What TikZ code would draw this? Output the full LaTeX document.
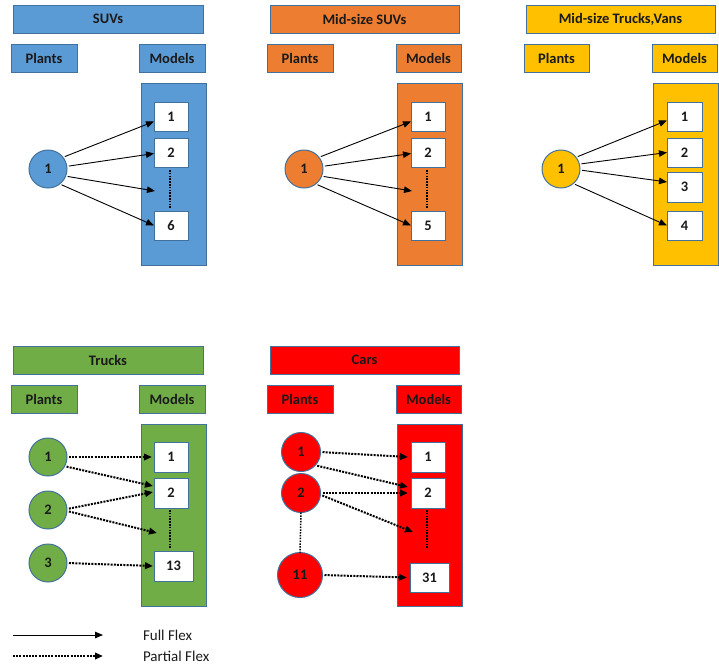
\documentclass[tikz,border=0pt]{standalone}
\usepackage{fontspec}
\setmainfont{Carlito}
\usetikzlibrary{arrows.meta}
\definecolor{cblue}{HTML}{5B9BD5}
\definecolor{corange}{HTML}{ED7D31}
\definecolor{cgold}{HTML}{FFC000}
\definecolor{cgreen}{HTML}{70AD47}
\definecolor{cred}{HTML}{FF0000}
\definecolor{cedge}{HTML}{41719C}
\definecolor{ctext}{HTML}{1A1A1A}
\begin{document}
\begin{tikzpicture}[x=1pt,y=-1pt,
  every node/.style={font=\fontsize{14.5}{17}\selectfont\bfseries, text=ctext, inner sep=0pt, outer sep=0pt},
  bar/.style={draw=cedge, line width=1pt, minimum width=190pt, minimum height=28pt},
  head/.style={draw=cedge, line width=1pt, minimum width=66pt, minimum height=28pt},
  colbox/.style={draw=cedge, line width=1pt, minimum width=65pt, minimum height=182pt},
  mbox/.style={draw=cedge, line width=1pt, fill=white, minimum width=34pt, minimum height=29pt},
  wbox/.style={mbox, minimum width=39pt},
  plant/.style={circle, draw=cedge, line width=1pt, minimum size=38pt},
  full/.style={draw=black, line width=0.9pt, -{Triangle[length=8pt,width=6.5pt]}, shorten <=2pt},
  partial/.style={draw=black, line width=2pt, dash pattern=on 2pt off 1.2pt, -{Triangle[length=8pt,width=6.5pt]}, shorten <=2pt},
  vdots/.style={draw=black, line width=1.5pt, dash pattern=on 1.5pt off 1.3pt},
  legend/.style={font=\fontsize{15}{18}\selectfont, anchor=west}
]
\useasboundingbox (0,0) rectangle (719,670);

% ===== SUVs =====
\node[bar, fill=cblue] (aT) at (108,19) {SUVs};
\node[head, fill=cblue] (aP) at (44,58) {Plants};
\node[head, fill=cblue] (aM) at (172,58) {Models};
\node[colbox, fill=cblue] (aB) at (173.5,174) {};
\node[mbox] (a1) at (171,116.5) {1};
\node[mbox] (a2) at (171,152.5) {2};
\node[mbox] (a6) at (171,225.5) {6};
\coordinate (aDt) at (170,170);
\coordinate (aDb) at (170,208);
\coordinate (aF) at (155,191);
\draw[vdots] (aDt) -- (aDb);
\node[plant, fill=cblue] (ap1) at (48,169) {1};
\draw[full] (ap1.38) -- ([yshift=-5pt]a1.west);
\draw[full] (ap1.8) -- ([yshift=-1pt]a2.west);
\draw[full] (ap1.-22) -- (aF);
\draw[full] (ap1.-52) -- (a6.west);

% ===== Mid-size SUVs =====
\node[bar, fill=corange, minimum width=189pt] (bT) at (364.5,19) {Mid-size SUVs};
\node[head, fill=corange] (bP) at (300,58) {Plants};
\node[head, fill=corange, minimum width=65pt] (bM) at (428.5,58) {Models};
\node[colbox, fill=corange] (bB) at (429.5,174) {};
\node[mbox] (b1) at (428,116.5) {1};
\node[mbox] (b2) at (428,152.5) {2};
\node[mbox] (b5) at (428,225.5) {5};
\coordinate (bDt) at (427,170);
\coordinate (bDb) at (427,208);
\coordinate (bF) at (412,191);
\draw[vdots] (bDt) -- (bDb);
\node[plant, fill=corange] (bp1) at (304,169) {1};
\draw[full] (bp1.38) -- ([yshift=-5pt]b1.west);
\draw[full] (bp1.8) -- ([yshift=-1pt]b2.west);
\draw[full] (bp1.-22) -- (bF);
\draw[full] (bp1.-52) -- (b5.west);

% ===== Mid-size Trucks, Vans =====
\node[bar, fill=cgold, minimum width=189pt] (cT) at (620.5,19) {Mid-size Trucks,Vans};
\node[head, fill=cgold, minimum width=65pt] (cP) at (556.5,58) {Plants};
\node[head, fill=cgold, minimum width=65pt] (cM) at (684.5,58) {Models};
\node[colbox, fill=cgold] (cB) at (685.5,174) {};
\node[mbox, minimum width=35pt] (c1) at (684.5,116.5) {1};
\node[mbox, minimum width=35pt] (c2) at (684.5,152.5) {2};
\node[mbox, minimum width=35pt, minimum height=30pt] (c3) at (684.5,187) {3};
\node[mbox, minimum width=35pt] (c4) at (684.5,225.5) {4};
\node[plant, fill=cgold] (cp1) at (561,169) {1};
\draw[full] (cp1.38) -- ([yshift=-4pt]c1.west);
\draw[full] (cp1.15) -- (c2.west);
\draw[full] (cp1.-3) -- ([yshift=5pt]c3.west);
\draw[full] (cp1.-50) -- (c4.west);

% ===== Trucks =====
\node[bar, fill=cgreen] (dT) at (108,360) {Trucks};
\node[head, fill=cgreen] (dP) at (44,399) {Plants};
\node[head, fill=cgreen] (dM) at (172,399) {Models};
\node[colbox, fill=cgreen] (dB) at (173.5,515) {};
\node[mbox, minimum height=30pt] (d1) at (171,457) {1};
\node[mbox, minimum height=30pt] (d2) at (171,493) {2};
\node[wbox, minimum height=30pt] (d13) at (173.5,566) {13};
\coordinate (dDt) at (170,510);
\coordinate (dDb) at (170,548);
\coordinate (dF) at (157,533);
\draw[vdots] (dDt) -- (dDb);
\node[plant, fill=cgreen] (dp1) at (48,457) {1};
\node[plant, fill=cgreen] (dp2) at (48,510) {2};
\node[plant, fill=cgreen] (dp3) at (48,563) {3};
\draw[partial] (dp1.east) -- ([xshift=-2pt]d1.west);
\draw[partial] (dp1.-29) -- ([xshift=-1pt,yshift=7pt]d2.west);
\draw[partial] (dp2.3) -- ([xshift=-1pt,yshift=1pt]d2.west);
\draw[partial] (dp2.-3) -- (dF);
\draw[partial] (dp3.east) -- ([xshift=-1pt]d13.west);

% ===== Cars =====
\node[bar, fill=cred, minimum width=189pt] (eT) at (364.5,360) {Cars};
\node[head, fill=cred] (eP) at (300,399) {Plants};
\node[head, fill=cred, minimum width=65pt] (eM) at (428.5,399) {Models};
\node[colbox, fill=cred] (eB) at (429.5,515) {};
\node[mbox, minimum height=30pt] (e1) at (428,457) {1};
\node[mbox, minimum height=30pt] (e2) at (428,493) {2};
\node[wbox] (e31) at (429.5,577.5) {31};
\coordinate (eDt) at (427,510);
\coordinate (eDb) at (427,548);
\coordinate (eF) at (413,532);
\draw[vdots] (eDt) -- (eDb);
\node[plant, fill=cred, minimum size=39pt] (ep1) at (301,452) {1};
\node[plant, fill=cred, minimum size=39pt] (ep2) at (301,493) {2};
\node[plant, fill=cred, minimum size=45pt] (ep11) at (300,575) {11};
\draw[vdots] (ep2.south) -- (ep11.north);
\draw[partial] (ep1.east) -- ([xshift=-3pt]e1.west);
\draw[partial] (ep1.-43) -- ([xshift=-3pt,yshift=6pt]e2.west);
\draw[partial] (ep2.east) -- ([xshift=-3pt]e2.west);
\draw[partial] (ep2.-5) -- (eF);
\draw[partial] (ep11.east) -- ([xshift=-3pt]e31.west);

% ===== Legend =====
\coordinate (l1a) at (13,635);
\coordinate (l1b) at (103,635);
\coordinate (l2a) at (13,656);
\coordinate (l2b) at (103,656);
\draw[full, shorten <=0pt] (l1a) -- (l1b);
\draw[partial, shorten <=0pt] (l2a) -- (l2b);
\node[legend] (lt1) at (143,635) {Full Flex};
\node[legend] (lt2) at (143,656) {Partial Flex};
\end{tikzpicture}
\end{document}
